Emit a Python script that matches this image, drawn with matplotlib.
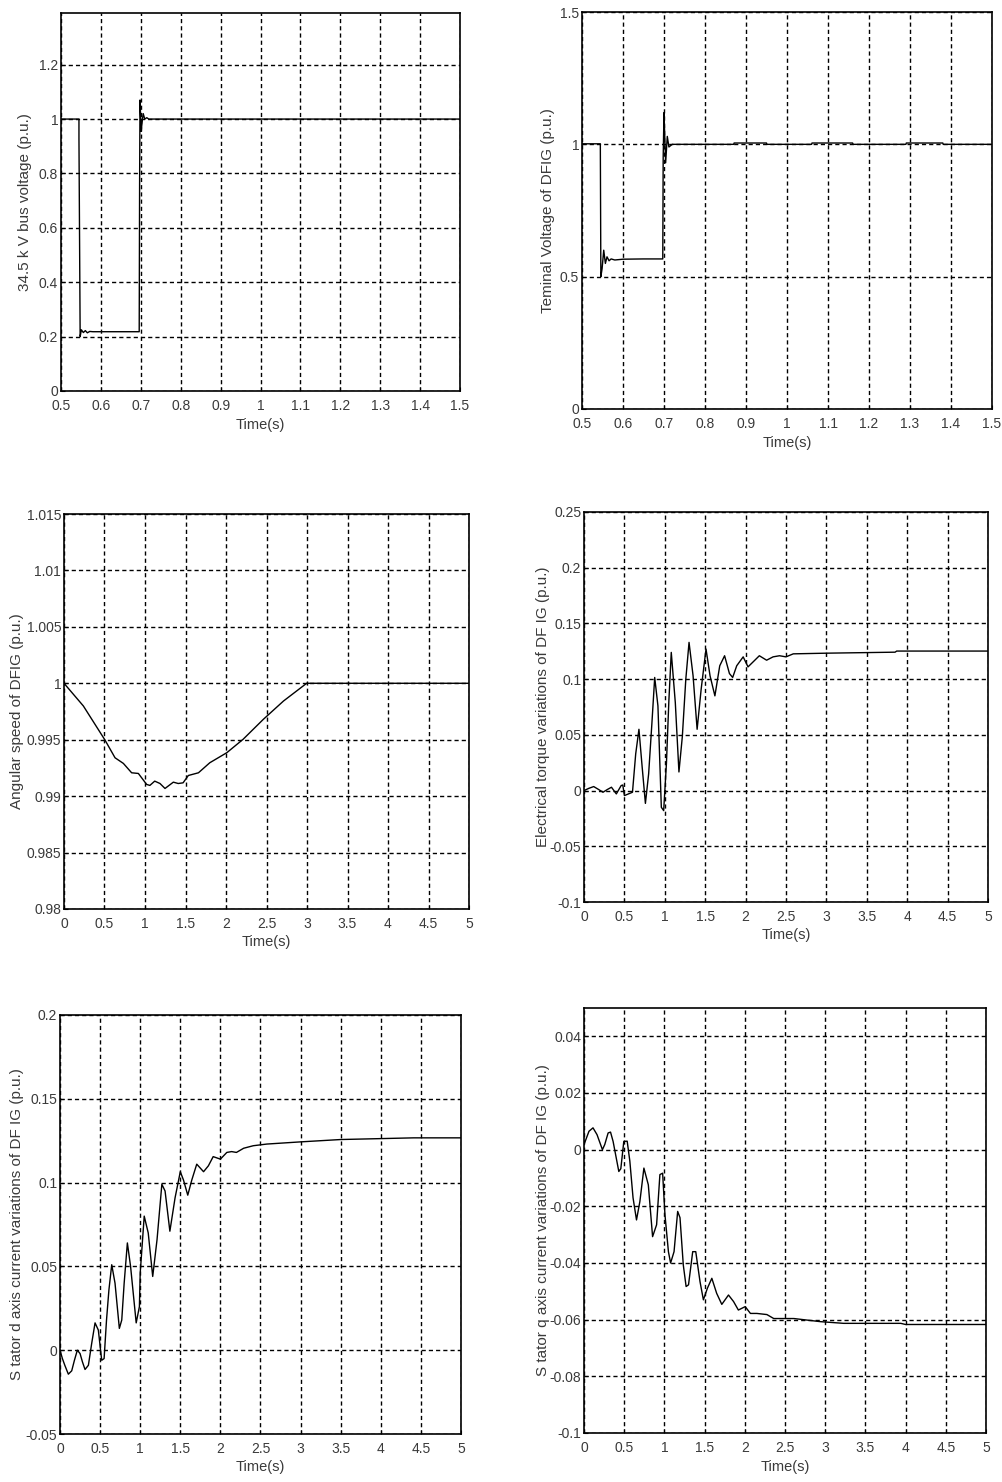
import numpy as np
import matplotlib
matplotlib.use("Agg")
import matplotlib.pyplot as plt
from matplotlib.ticker import FormatStrFormatter

plt.rcParams['font.family'] = ['Liberation Sans Narrow', 'Liberation Sans', 'DejaVu Sans']
plt.rcParams['axes.unicode_minus'] = False

# --- data ---
# 34.5 kV bus voltage
t_bus = [0.5, 0.545, 0.545, 0.548, 0.551, 0.556, 0.561, 0.566, 0.572, 0.58, 0.62, 0.66, 0.696,
         0.697, 0.698, 0.701, 0.703, 0.706, 0.71, 0.715, 0.72, 0.8, 1.0, 1.2, 1.5]
v_bus = [1.0, 1.0, 0.93, 0.20, 0.225, 0.215, 0.222, 0.214, 0.219, 0.218, 0.218, 0.218, 0.218,
         0.76, 1.07, 0.955, 0.985, 1.02, 1.0, 1.005, 1.0, 1.0, 1.0, 1.0, 1.0]

# terminal voltage of DFIG
t_term = [0.5, 0.5447, 0.546, 0.549, 0.553, 0.557, 0.561, 0.566, 0.571, 0.58, 0.6, 0.65, 0.697,
          0.698, 0.7, 0.702, 0.704, 0.708, 0.712, 0.72, 0.8, 0.87, 0.871, 0.95, 0.951, 1.06, 1.061,
          1.16, 1.161, 1.29, 1.291, 1.38, 1.381, 1.5]
v_term = [1.002, 1.002, 0.50, 0.53, 0.60, 0.55, 0.575, 0.56, 0.567, 0.563, 0.566, 0.567, 0.567,
          0.95, 1.12, 1.02, 0.93, 1.03, 0.99, 1.0, 1.0, 1.0, 1.005, 1.005, 1.0, 1.0, 1.005,
          1.005, 1.0, 1.0, 1.005, 1.005, 1.0, 1.0]

# angular speed of DFIG
t_speed = [0, 0.239, 0.506, 0.63, 0.733, 0.835, 0.918, 1.02, 1.06, 1.12, 1.185, 1.247, 1.35,
           1.41, 1.47, 1.535, 1.66, 1.80, 2.01, 2.21, 2.46, 2.71, 2.996, 5.0]
w_speed = [1.0, 0.99799, 0.99497, 0.99340, 0.99290, 0.99207, 0.99201, 0.99104, 0.99095, 0.99133,
           0.99112, 0.99068, 0.99124, 0.99112, 0.99118, 0.99183, 0.99207, 0.99296, 0.99385,
           0.99503, 0.99680, 0.99843, 1.0, 1.0]

# electrical torque variations
t_te = [0, 0.06, 0.12, 0.18, 0.235, 0.29, 0.34, 0.40, 0.46, 0.48, 0.50, 0.55, 0.6, 0.64, 0.68,
        0.72, 0.76, 0.80, 0.84, 0.875, 0.915, 0.957, 0.986, 1.02, 1.05, 1.08, 1.13, 1.175, 1.217,
        1.26, 1.30, 1.35, 1.40, 1.45, 1.51, 1.56, 1.62, 1.68, 1.74, 1.80, 1.84, 1.89, 1.97,
        2.03, 2.11, 2.17, 2.26, 2.34, 2.42, 2.50, 2.59, 3.0, 3.85, 3.87, 5.0]
v_te = [0, 0.002, 0.0036, 0.001, -0.0015, 0.001, 0.003, -0.003, 0.0045, 0.005, -0.0045, -0.003,
        -0.0015, 0.033, 0.055, 0.021, -0.0115, 0.015, 0.06, 0.1015, 0.076, -0.015, -0.018, 0.024,
        0.08, 0.124, 0.079, 0.0167, 0.0485, 0.1, 0.133, 0.103, 0.055, 0.091, 0.127, 0.103,
        0.085, 0.112, 0.121, 0.105, 0.1015, 0.112, 0.12, 0.111, 0.1167, 0.121, 0.117, 0.12,
        0.121, 0.12, 0.1227, 0.1233, 0.1242, 0.1252, 0.1252]

# stator d axis current variations
t_id = [0, 0.03, 0.06, 0.104, 0.146, 0.18, 0.216, 0.25, 0.28, 0.312, 0.354, 0.395, 0.437, 0.478,
        0.52, 0.55, 0.58, 0.61, 0.645, 0.686, 0.74, 0.77, 0.80, 0.84, 0.88, 0.95, 0.99, 1.0,
        1.05, 1.10, 1.156, 1.21, 1.27, 1.31, 1.37, 1.435, 1.50, 1.54, 1.593, 1.643, 1.705,
        1.79, 1.85, 1.91, 2.0, 2.08, 2.14, 2.2, 2.29, 2.41, 2.58, 3.0, 3.5, 4.41, 5.0]
v_id = [0, -0.005, -0.009, -0.0143, -0.0123, -0.006, 0, -0.002, -0.007, -0.0115, -0.009, 0.004,
        0.0163, 0.012, -0.006, -0.005, 0.018, 0.036, 0.051, 0.040, 0.013, 0.018, 0.04, 0.064,
        0.050, 0.0163, 0.026, 0.046, 0.080, 0.070, 0.044, 0.066, 0.099, 0.095, 0.071, 0.091,
        0.1065, 0.1015, 0.0925, 0.1015, 0.111, 0.1065, 0.110, 0.1155, 0.114, 0.118, 0.1185,
        0.118, 0.1205, 0.122, 0.123, 0.1243, 0.1257, 0.1267, 0.1267]

# stator q axis current variations
t_iq = [0, 0.062, 0.112, 0.162, 0.229, 0.258, 0.30, 0.33, 0.362, 0.433, 0.458, 0.495, 0.537,
        0.57, 0.61, 0.653, 0.695, 0.745, 0.80, 0.853, 0.903, 0.944, 0.978, 1.007, 1.05, 1.077,
        1.12, 1.165, 1.194, 1.235, 1.27, 1.30, 1.352, 1.39, 1.443, 1.485, 1.535, 1.59, 1.65,
        1.714, 1.797, 1.86, 1.92, 2.005, 2.07, 2.15, 2.275, 2.36, 2.61, 2.94, 3.23, 3.94, 4.0, 5.0]
v_iq = [0.0018, 0.0065, 0.0077, 0.0053, 0.0, 0.0018, 0.0059, 0.0062, 0.0029, -0.0077, -0.0067,
        0.0029, 0.003, -0.004, -0.017, -0.0248, -0.0183, -0.0065, -0.0124, -0.0307, -0.0265,
        -0.0088, -0.0083, -0.023, -0.036, -0.040, -0.036, -0.0218, -0.024, -0.0407, -0.0483,
        -0.0477, -0.036, -0.036, -0.0466, -0.053, -0.0489, -0.0454, -0.0507, -0.0546, -0.0513,
        -0.0536, -0.0566, -0.0554, -0.0578, -0.0578, -0.0582, -0.0596, -0.0596, -0.0607,
        -0.0613, -0.0613, -0.0617, -0.0617]

ylabels = ['34.5 k V bus voltage (p.u.)', 'Teminal Voltage of DFIG (p.u.)',
           'Angular speed of DFIG (p.u.)', 'Electrical torque variations of DF IG (p.u.)',
           'S tator d axis current variations of DF IG (p.u.)',
           'S tator q axis current variations of DF IG (p.u.)']

W, H = 1003, 1482
# pixel boxes (left, right, top, bottom)
boxes = [(61, 460, 13, 391), (582, 992, 12, 409),
         (64, 469, 514, 909), (584, 988, 512, 902),
         (60, 461, 1015, 1434), (584, 986, 1008, 1433)]
label_x = [-0.072, -0.066, -0.099, -0.084, -0.09, -0.085]

series = [(t_bus, v_bus), (t_term, v_term), (t_speed, w_speed),
          (t_te, v_te), (t_id, v_id), (t_iq, v_iq)]
xlims = [(0.5, 1.5), (0.5, 1.5), (0, 5), (0, 5), (0, 5), (0, 5)]
xticks = [np.arange(0.5, 1.51, 0.1), np.arange(0.5, 1.51, 0.1)] + [np.arange(0, 5.01, 0.5)] * 4
ylims = [(0, 1.39), (0, 1.5), (0.98, 1.015), (-0.1, 0.25), (-0.05, 0.2), (-0.1, 0.05)]
yticks = [np.arange(0, 1.21, 0.2), np.arange(0, 1.51, 0.5), np.arange(0.98, 1.0151, 0.005),
          np.arange(-0.1, 0.251, 0.05), np.arange(-0.05, 0.201, 0.05), np.arange(-0.1, 0.0401, 0.02)]

txt = '#3a3a3a'
fig = plt.figure(figsize=(W / 100, H / 100), dpi=100)

for i, (l, r, t, b) in enumerate(boxes):
    ax = fig.add_axes([l / W, 1 - b / H, (r - l) / W, (b - t) / H])
    x, y = series[i]
    ax.plot(x, y, color='black', lw=1.0)
    ax.set_xlim(*xlims[i])
    ax.set_ylim(*ylims[i])
    ax.set_xticks(np.round(xticks[i], 4))
    ax.set_yticks(np.round(yticks[i], 4))
    ax.xaxis.set_major_formatter(FormatStrFormatter('%g'))
    ax.yaxis.set_major_formatter(FormatStrFormatter('%g'))
    ax.grid(True, color='black', linestyle=(0, (3, 2.2)), lw=1.0)
    ax.tick_params(direction='in', length=3, labelsize=10, labelcolor=txt)
    ax.tick_params(axis='x', pad=6)
    ax.tick_params(axis='y', pad=2)
    for s in ax.spines.values():
        s.set_linewidth(1.2)
    ax.set_xlabel('Time(s)', fontsize=10.5, color=txt, labelpad=3)
    ax.set_ylabel(ylabels[i], fontsize=11, color=txt)
    ax.yaxis.set_label_coords(label_x[i], 0.5)

fig.savefig('out.png', dpi=100)
